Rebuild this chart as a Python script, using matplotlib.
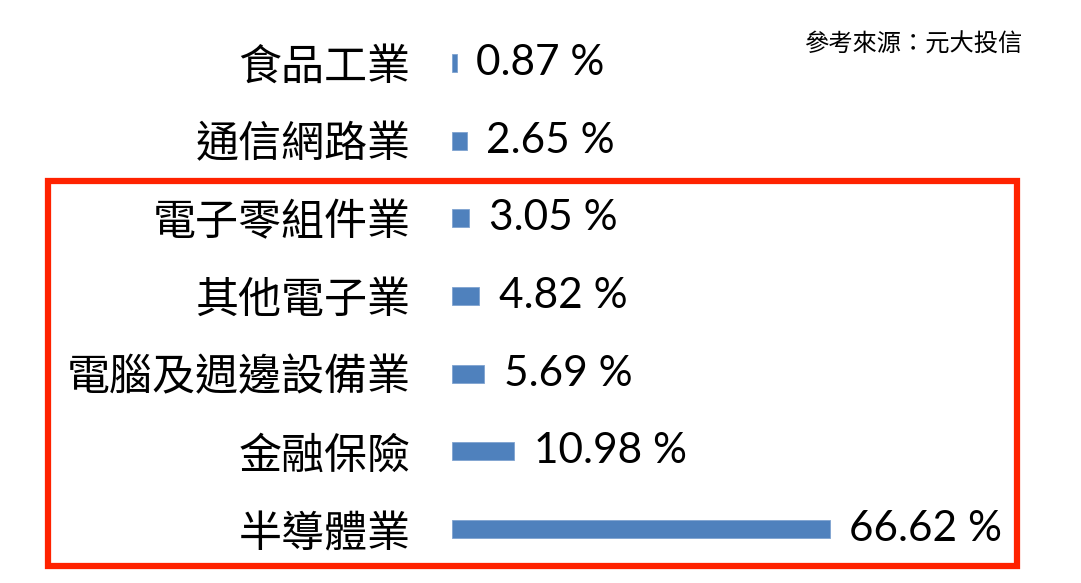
import matplotlib
matplotlib.use('Agg')
import matplotlib.pyplot as plt
from matplotlib.patches import Rectangle

plt.rcParams['font.family'] = ['Noto Sans CJK TC', 'DejaVu Sans']

categories = ['食品工業', '通信網路業', '電子零組件業', '其他電子業',
              '電腦及週邊設備業', '金融保險', '半導體業']
values = [0.87, 2.65, 3.05, 4.82, 5.69, 10.98, 66.62]
value_labels = ['0.87 %', '2.65 %', '3.05 %', '4.82 %', '5.69 %', '10.98 %', '66.62 %']

W, H = 1081, 583
fig = plt.figure(figsize=(W / 100, H / 100), dpi=100)
ax = fig.add_axes([452 / W, 1 - 568 / H, 567 / W, 544 / H])

pos = list(range(len(categories)))[::-1]
bars = ax.barh(pos, values, height=0.23, color='#4f81bd', edgecolor='#7fa3d0', linewidth=0.6)
ax.set_xlim(0, 100)
ax.set_ylim(-0.5, len(categories) - 0.5)

for spine in ax.spines.values():
    spine.set_visible(False)
ax.set_xticks([])
ax.set_yticks(pos)
ax.set_yticklabels(categories, fontsize=31)
ax.tick_params(axis='y', length=0, pad=30)

# 數值標籤
for bar, lab in zip(bars, value_labels):
    ax.annotate(lab, xy=(bar.get_width(), bar.get_y() + bar.get_height() / 2),
                xytext=(14, 0), textcoords='offset points',
                ha='left', va='center', fontsize=30.5, family='Lato')

# 紅框
fig.patches.append(Rectangle((48 / W, 1 - 566 / H), (1017 - 48) / W, (566 - 181) / H,
                             transform=fig.transFigure, fill=False,
                             edgecolor='#ff2200', linewidth=4.5))

fig.text(1022 / W, 1 - 45 / H, '參考來源：元大投信', ha='right', va='center', fontsize=17.5)

fig.savefig('out.png', dpi=100)
